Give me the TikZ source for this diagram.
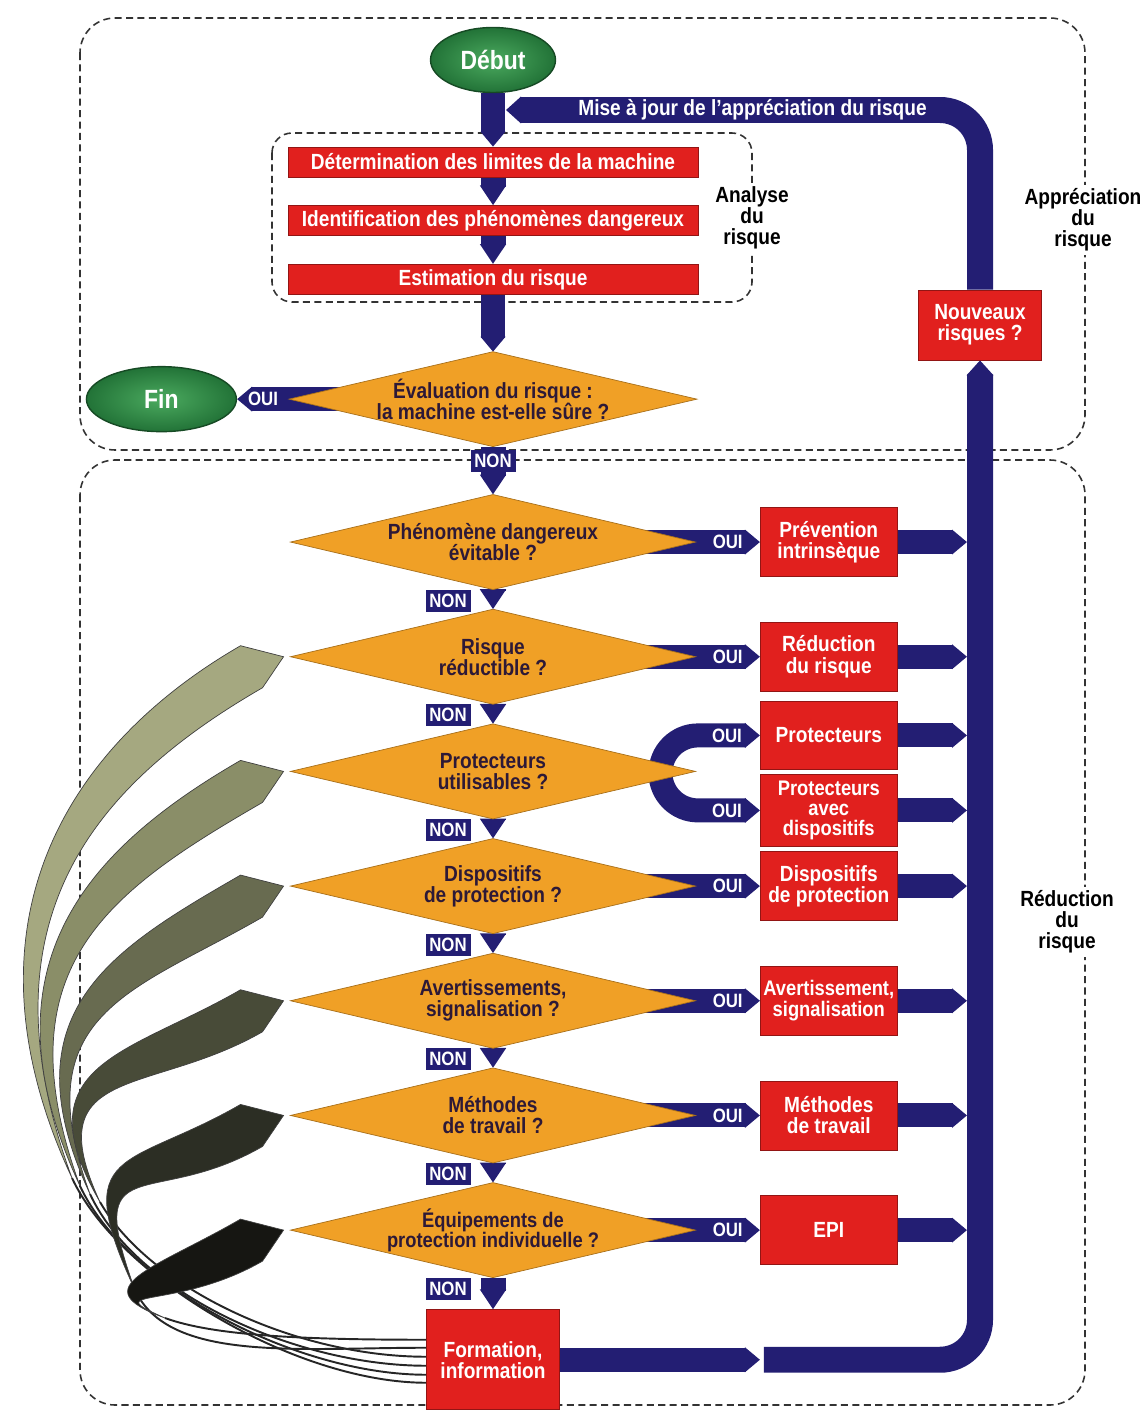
\documentclass[tikz,border=0pt]{standalone}
\usepackage{fontspec}
\setmainfont{Liberation Sans}[FakeStretch=0.87]
\usepackage{tikz}
\usetikzlibrary{arrows.meta,positioning,shapes.geometric,calc}
\definecolor{navyband}{RGB}{35,30,115}
\definecolor{boxred}{RGB}{225,32,30}
\definecolor{qorange}{RGB}{240,160,38}
\definecolor{qtext}{RGB}{45,25,55}
\definecolor{startgreen}{RGB}{40,135,65}
\definecolor{fb1}{RGB}{165,168,128}
\definecolor{fb2}{RGB}{138,142,104}
\definecolor{fb3}{RGB}{104,107,80}
\definecolor{fb4}{RGB}{72,75,56}
\definecolor{fb5}{RGB}{44,46,36}
\definecolor{fb6}{RGB}{22,22,18}
\pgfdeclarelayer{background}
\pgfsetlayers{background,main}

\begin{document}
\begin{tikzpicture}[
    x=0.02cm, y=0.02cm,
    node distance=0.394cm and 1.29cm,
    txt/.style={font=\fontsize{12.5}{12}\selectfont\bfseries, align=center},
    bar/.style={txt, fill=boxred, draw=boxred!65!black, text=white, minimum width=8.2cm, minimum height=0.6cm, inner sep=0pt},
    question/.style={txt, diamond, aspect=4.3, fill=qorange, draw=qorange!70!black, text=qtext, minimum width=8.1cm, minimum height=1.9cm, inner sep=0pt, outer sep=0pt},
    action/.style={txt, fill=boxred, draw=boxred!65!black, text=white, minimum width=2.74cm, minimum height=1.38cm, inner sep=1pt},
    terminal/.style={txt, ellipse, inner color={rgb,255:red,75;green,170;blue,95}, outer color=startgreen!85!black, draw=startgreen!55!black, thick, text=white, font=\fontsize{15}{15}\selectfont\bfseries, minimum height=1.3cm},
    zone/.style={draw=black!80, line width=0.9pt, dash pattern=on 4pt off 2.5pt, rounded corners=0.7cm},
    zonelbl/.style={txt, fill=white, inner sep=2pt},
    band/.style={draw=navyband, line width=0.48cm, -{Triangle[width=0pt 1, length=0.3cm]}},
    ptr/.style={band, line width=0.5cm, -{Triangle[width=0pt 1, length=0.4cm]}},
    loopband/.style={band, line width=0.52cm, rounded corners=0.8cm},
    bandtxt/.style={txt, text=white, inner sep=0pt},
    ouilbl/.style={font=\fontsize{11}{11}\selectfont\bfseries, text=white, inner sep=0pt},
    nonlbl/.style={ouilbl, fill=navyband, minimum width=0.9cm, minimum height=0.44cm},
    thinret/.style={line width=1.1pt, black!85},
]
\useasboundingbox (0,0) rectangle (1144,-1419);

% analyse du risque
\node[terminal, minimum width=2.5cm] (debut) at (493,-60) {Début};
\node[bar] (det) at (493,-162) {Détermination des limites de la machine};
\node[bar, below=0.56cm of det] (ide) {Identification des phénomènes dangereux};
\node[bar, below=0.56cm of ide] (est) {Estimation du risque};
\node[question, minimum height=1.84cm, below=1.14cm of est] (eval) {Évaluation du risque :\\la machine est-elle sûre ?};
\node[terminal, minimum width=3cm, left=1.04cm of eval] (fin) {Fin};

% reduction du risque
\node[question, below=0.96cm of eval] (q1) {Phénomène dangereux\\évitable ?};
\node[question, below=of q1] (q2) {Risque\\réductible ?};
\node[question, below=of q2] (q3) {Protecteurs\\utilisables ?};
\node[question, below=of q3] (q4) {Dispositifs\\de protection ?};
\node[question, below=of q4] (q5) {Avertissements,\\signalisation ?};
\node[question, below=of q5] (q6) {Méthodes\\de travail ?};
\node[question, font=\fontsize{12}{11.5}\selectfont\bfseries, below=of q6] (q7) {Équipements de\\protection individuelle ?};
\node[action, minimum width=2.66cm, minimum height=2cm, below=0.636cm of q7] (form) {Formation,\\information};

\node[action, right=of q1] (r1) {Prévention\\intrinsèque};
\node[action, right=of q2] (r2) {Réduction\\du risque};
\node[action, minimum height=1.36cm, right=of q3, yshift=0.72cm] (r3) {Protecteurs};
\node[action, minimum height=1.44cm, font=\fontsize{12}{11.5}\selectfont\bfseries, inner sep=0pt, right=of q3, yshift=-0.78cm] (r3b) {Protecteurs\\avec\\dispositifs};
\node[action, right=of q4] (r4) {Dispositifs\\de protection};
\node[action, font=\fontsize{12}{12}\selectfont\bfseries, inner sep=0pt, right=of q5] (r5) {Avertissement,\\signalisation};
\node[action, right=of q6] (r6) {Méthodes\\de travail};
\node[action, right=of q7] (r7) {EPI};
\node[action, minimum width=2.45cm, minimum height=1.4cm] (nouv) at (980,-325) {Nouveaux\\risques ?};

\node[zonelbl] (ana) at (752,-218) {Analyse\\du\\risque};
\node[zonelbl] (appr) at (1083,-220) {Appréciation\\du\\risque};
\node[zonelbl] (redu) at (1067,-922) {Réduction\\du\\risque};

\coordinate (maj) at (506,-110);
\coordinate (spine) at (967,0);

\begin{pgfonlayer}{background}
\draw[zone] (80,-18) rectangle (1085,-450);
\draw[zone] (80,-460) rectangle (1085,-1405);
\draw[zone, rounded corners=0.4cm] (272,-133) rectangle (752,-302);

% retours vers les questions
\foreach \q/\col/\px/\py/\ang/\ao/\bo/\sh/\dy/\tl in {
    q2/fb1/72/1178/115/280/200/25/-23/110,
    q3/fb2/80/1186/115/240/180/22/-15/110,
    q4/fb3/90/1194/115/200/150/18/-6/110,
    q5/fb4/100/1202/120/160/130/16/3/100,
    q6/fb5/135/1290/115/160/130/15/12/80,
    q7/fb6/165/1318/160/90/100/15/20/50} {
  \coordinate (P) at (\px,-\py);
  \coordinate (U) at ($(\q.west)+(-50,11)$);
  \coordinate (T) at ($(\q.west)+(-7,0)$);
  \coordinate (L) at ($(\q.west)+(-28,-31)$);
  \coordinate (A) at ($(P)+(\ang:\ao)$);
  \coordinate (B) at ($(U)+(210:\bo)$);
  \draw[thinret] ($(form.west)+(0,\dy)$) .. controls +(-130,0) and +({\ang+180}:\tl) .. (P);
  \filldraw[draw=black!75, fill=\col] (P) .. controls (A) and (B) .. (U)
    -- (T) -- (L) .. controls ($(B)+(22,-42)$) and ($(A)+(\sh,0)$) .. (P) -- cycle;
}

\draw[band] (debut) -- (det);
\draw[ptr] (det) -- (ide);
\draw[ptr] (ide) -- (est);
\draw[band] (est) -- (eval);
\draw[band] (eval.center) -- (fin);
\draw[ptr] (eval) -- (q1);
\foreach \a/\b in {q1/q2,q2/q3,q3/q4,q4/q5,q5/q6,q6/q7,q7/form}
  \draw[ptr] (\a) -- (\b);
\foreach \n in {1,2,4,5,6,7}
  \draw[band] (q\n.center) -- (r\n);
\draw[band, {Triangle[width=0pt 1, length=0.3cm]}-{Triangle[width=0pt 1, length=0.3cm]}]
  (r3.west) -- ++(-62,0) arc[start angle=90, end angle=270, radius=0.75cm] -- (r3b.west);
\foreach \n in {1,2,3,3b,4,5,6,7}
  \draw[band] (r\n.east) -- (r\n.east -| spine);

% boucle de mise a jour
\draw[band] (form) -- (form.east -| r1.west);
\draw[loopband] ($(form.east -| r1.west)+(4,0)$) -| (nouv);
\draw[loopband] (nouv) |- node[bandtxt, pos=0.74] {Mise à jour de l'appréciation du risque} (maj);
\end{pgfonlayer}

\node[ouilbl] at ($(eval.west)!0.5!(fin.east)$) {OUI};
\node[nonlbl] at ($(eval.south)!0.3!(q1.north)$) {NON};
\foreach \n in {1,2,4,5,6,7}
  \node[ouilbl] at ($(q\n.east)!0.5!(r\n.west)$) {OUI};
\node[ouilbl] at ($(r3.west)+(-33,0)$) {OUI};
\node[ouilbl] at ($(r3b.west)+(-33,0)$) {OUI};
\foreach \a in {q1,q2,q3,q4,q5,q6,q7}
  \node[nonlbl] at ($(\a.south)+(-45,-11)$) {NON};
\end{tikzpicture}
\end{document}
